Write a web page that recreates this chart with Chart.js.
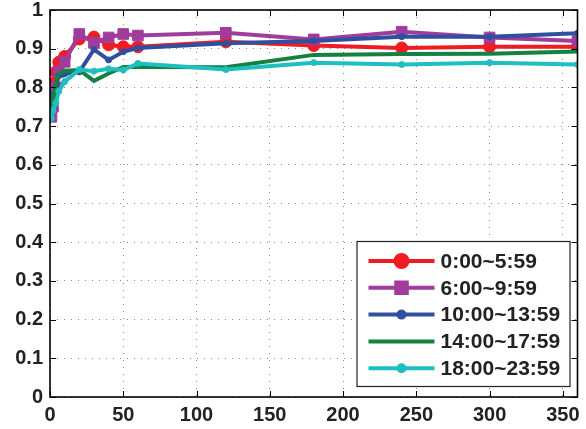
<!DOCTYPE html>
<html>
<head>
<meta charset="utf-8">
<script src="https://cdn.jsdelivr.net/npm/chart.js@4"></script>
<style>
  html, body { margin: 0; padding: 0; background: #fff; }
  canvas { display: block; }
</style>
</head>
<body>
<canvas id="chart" width="586" height="429"></canvas>
<script>
// values
const xValues = [1, 2, 4, 6, 10, 20, 30, 40, 50, 60, 120, 180, 240, 300, 360];
const seriesLabels = ["0:00~5:59", "6:00~9:59", "10:00~13:59", "14:00~17:59", "18:00~23:59"];
const red    = [0.77, 0.81, 0.84, 0.865, 0.88, 0.925, 0.93, 0.91, 0.905, 0.905, 0.918, 0.908, 0.902, 0.905, 0.905];
const purple = [0.724, 0.75, 0.80, 0.84, 0.866, 0.938, 0.915, 0.929, 0.938, 0.934, 0.941, 0.924, 0.944, 0.929, 0.92];
const blue   = [0.75, 0.78, 0.80, 0.83, 0.835, 0.84, 0.898, 0.871, 0.892, 0.902, 0.914, 0.92, 0.931, 0.931, 0.94];
const green  = [0.73, 0.77, 0.81, 0.835, 0.843, 0.845, 0.817, 0.836, 0.853, 0.853, 0.852, 0.884, 0.886, 0.887, 0.893];
const cyan   = [0.72, 0.74, 0.76, 0.79, 0.815, 0.846, 0.842, 0.848, 0.845, 0.862, 0.846, 0.864, 0.859, 0.864, 0.859];
const xTicks = [0, 50, 100, 150, 200, 250, 300, 350];
const yTicks = [0, 0.1, 0.2, 0.3, 0.4, 0.5, 0.6, 0.7, 0.8, 0.9, 1];

const colors = ["#f01c24", "#a03c9c", "#2f4f9f", "#13813f", "#1fbfbf"];
const pointStyles = ["circle", "rect", "circle", "circle", "circle"];
const pointSizes = [6, 7.5, 3, 0, 3];

const allSeries = [red, purple, blue, green, cyan];

const tickFont = { family: "'Liberation Sans', Arial, sans-serif", size: 20, weight: "bold", lineHeight: 1 };

const datasets = allSeries.map((vals, i) => ({
  label: seriesLabels[i],
  data: vals.map((v, j) => ({ x: xValues[j], y: v })),
  borderColor: colors[i],
  backgroundColor: colors[i],
  borderWidth: 4,
  pointStyle: pointStyles[i],
  pointRadius: pointSizes[i],
  pointBorderWidth: 1,
  pointBorderColor: colors[i],
  pointBackgroundColor: colors[i],
  tension: 0,
  order: allSeries.length - i,
}));

// box around the plot plus inward tick marks on all four sides
const boxPlugin = {
  id: "box",
  afterDatasetsDraw(chart) {
    const { ctx, chartArea: a, scales } = chart;
    ctx.save();
    ctx.strokeStyle = "#000";
    ctx.lineWidth = 1;
    xTicks.forEach((t) => {
      const px = Math.round(scales.x.getPixelForValue(t)) + 0.5;
      ctx.beginPath();
      ctx.moveTo(px, a.bottom); ctx.lineTo(px, a.bottom - 6);
      ctx.moveTo(px, a.top); ctx.lineTo(px, a.top + 6);
      ctx.stroke();
    });
    yTicks.forEach((t) => {
      const py = Math.round(scales.y.getPixelForValue(t)) + 0.5;
      ctx.beginPath();
      ctx.moveTo(a.left, py); ctx.lineTo(a.left + 6, py);
      ctx.moveTo(a.right, py); ctx.lineTo(a.right - 6, py);
      ctx.stroke();
    });
    ctx.lineWidth = 1.6;
    ctx.strokeRect(a.left, a.top, a.right - a.left, a.bottom - a.top);
    ctx.restore();
  },
};

// matlab style legend: line sample with marker in the middle
const legendPlugin = {
  id: "matLegend",
  afterDraw(chart) {
    const { ctx, chartArea: a } = chart;
    const w = 213, h = 145;
    const x0 = a.right - 8 - w;
    const y0 = a.bottom - 11 - h;
    ctx.save();
    ctx.fillStyle = "#fff";
    ctx.fillRect(x0, y0, w, h);
    ctx.strokeStyle = "#222";
    ctx.lineWidth = 1.2;
    ctx.strokeRect(x0 + 0.5, y0 + 0.5, w, h);
    chart.data.datasets.forEach((ds, i) => {
      const y = y0 + 20 + i * 26.8;
      ctx.strokeStyle = ds.borderColor;
      ctx.lineWidth = 4;
      ctx.beginPath();
      ctx.moveTo(x0 + 12, y);
      ctx.lineTo(x0 + 78, y);
      ctx.stroke();
      if (ds.pointRadius > 0) {
        Chart.helpers.drawPoint(ctx, {
          pointStyle: ds.pointStyle,
          radius: ds.pointRadius,
          borderWidth: 1,
          rotation: 0,
        }, x0 + 45, y);
        ctx.fillStyle = ds.backgroundColor;
        ctx.fill();
      }
      ctx.fillStyle = "#222";
      ctx.font = "bold 21px 'Liberation Sans', Arial, sans-serif";
      ctx.textAlign = "left";
      ctx.textBaseline = "middle";
      ctx.fillText(ds.label, x0 + 84, y + 1);
    });
    ctx.restore();
  },
};

new Chart(document.getElementById("chart").getContext("2d"), {
  type: "line",
  data: { datasets },
  options: {
    responsive: false,
    animation: false,
    devicePixelRatio: 1,
    layout: { padding: { top: 10, right: 4, left: 0, bottom: 0 } },
    plugins: { legend: { display: false }, tooltip: { enabled: false } },
    scales: {
      x: {
        type: "linear",
        min: 0,
        max: 360,
        afterBuildTicks: (scale) => { scale.ticks = xTicks.map((v) => ({ value: v })); },
        afterFit: (scale) => {
          scale.height = 32;
          scale.paddingLeft = 0;
          scale.paddingRight = 0;
        },
        ticks: { color: "#222", font: tickFont, padding: 8, maxRotation: 0, autoSkip: false },
        grid: { color: "#888", lineWidth: 1, drawTicks: false },
        border: { display: false, dash: [1, 6] },
      },
      y: {
        min: 0,
        max: 1,
        afterBuildTicks: (scale) => { scale.ticks = yTicks.map((v) => ({ value: v })); },
        afterFit: (scale) => {
          scale.width = 50;
          scale.paddingTop = 0;
          scale.paddingBottom = 0;
        },
        ticks: {
          color: "#222",
          font: tickFont,
          padding: 7,
          autoSkip: false,
          callback: (v) => String(Math.round(v * 10) / 10),
        },
        grid: { color: "#888", lineWidth: 1, drawTicks: false },
        border: { display: false, dash: [1, 6] },
      },
    },
  },
  plugins: [boxPlugin, legendPlugin],
});
</script>
</body>
</html>
